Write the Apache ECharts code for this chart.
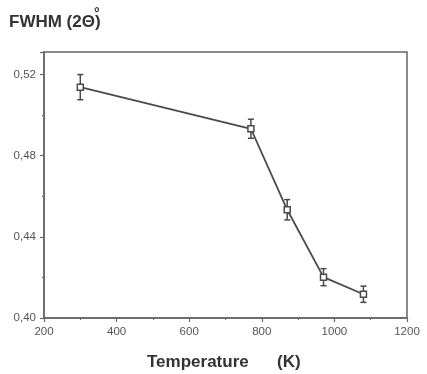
<!DOCTYPE html>
<html>
<head>
<meta charset="utf-8">
<script src="https://cdn.jsdelivr.net/npm/echarts@6/dist/echarts.min.js"></script>
<style>
  html, body { margin: 0; padding: 0; background: #fff; }
  #chart { width: 427px; height: 374px; }
</style>
</head>
<body>
<div id="chart"></div>
<script>
// values
const temps = [300, 770, 870, 970, 1080];
const fwhm = [0.5137, 0.4932, 0.4533, 0.4201, 0.4117];
const errs = [0.0062, 0.0047, 0.005, 0.0042, 0.004];

const lineColor = '#4a4a4a';
const axisColor = '#666';
const boldFont = 'bold 17px "Liberation Sans", Arial, sans-serif';

const chart = echarts.init(document.getElementById('chart'));

const points = temps.map((t, i) => [t, fwhm[i]]);
const bars = temps.map((t, i) => [t, fwhm[i] - errs[i], fwhm[i] + errs[i]]);

function renderErr(params, api) {
  const lo = api.coord([api.value(0), api.value(1)]);
  const hi = api.coord([api.value(0), api.value(2)]);
  const w = 3;
  const st = {stroke: lineColor, lineWidth: 1.5};
  return {
    type: 'group',
    children: [
      {type: 'line', shape: {x1: lo[0], y1: lo[1], x2: hi[0], y2: hi[1]}, style: st},
      {type: 'line', shape: {x1: lo[0] - w, y1: lo[1], x2: lo[0] + w, y2: lo[1]}, style: st},
      {type: 'line', shape: {x1: hi[0] - w, y1: hi[1], x2: hi[0] + w, y2: hi[1]}, style: st}
    ]
  };
}

const option = {
  backgroundColor: '#fff',
  animation: false,
  grid: {
    left: 44,
    right: 20,
    top: 52,
    bottom: 56,
    show: true,
    borderColor: axisColor,
    borderWidth: 1.5
  },
  graphic: [
    {
      type: 'text', left: 9, top: 14,
      style: {text: 'FWHM (2Θ)', font: boldFont, fill: '#333'}
    },
    {
      type: 'text', left: 94, top: 7,
      style: {text: '°', font: 'bold 14px "Liberation Sans", Arial, sans-serif', fill: '#333'}
    },
    {
      type: 'text', left: 147, top: 354,
      style: {text: 'Temperature', font: boldFont, fill: '#333'}
    },
    {
      type: 'text', left: 277, top: 354,
      style: {text: '(K)', font: boldFont, fill: '#333'}
    }
  ],
  xAxis: {
    type: 'value',
    min: 200,
    max: 1200,
    interval: 200,
    axisLine: {lineStyle: {color: axisColor, width: 1.5}},
    axisTick: {length: 4, lineStyle: {color: axisColor, width: 1.2}},
    minorTick: {show: true, splitNumber: 2, length: 2, lineStyle: {color: axisColor}},
    splitLine: {show: false},
    axisLabel: {
      color: '#555', fontSize: 11.5, fontFamily: '"Liberation Sans", Arial, sans-serif', margin: 8,
      formatter: v => String(v)
    }
  },
  yAxis: {
    type: 'value',
    min: 0.40,
    max: 0.531,
    interval: 0.04,
    axisLine: {show: true, lineStyle: {color: axisColor, width: 1.5}},
    axisTick: {show: true, length: 4, lineStyle: {color: axisColor, width: 1.2}},
    minorTick: {show: true, splitNumber: 2, length: 2, lineStyle: {color: axisColor}},
    splitLine: {show: false},
    axisLabel: {
      color: '#555', fontSize: 11.5, fontFamily: '"Liberation Sans", Arial, sans-serif', margin: 8,
      showMaxLabel: false,
      formatter: v => (Math.abs(v - 0.531) < 1e-6 ? '' : v.toFixed(2).replace('.', ','))
    }
  },
  series: [
    {
      type: 'line',
      data: points,
      symbol: 'rect',
      symbolSize: 6,
      z: 3,
      lineStyle: {color: lineColor, width: 1.8},
      itemStyle: {color: '#fff', borderColor: lineColor, borderWidth: 1.5}
    },
    {
      type: 'custom',
      data: bars,
      renderItem: renderErr,
      z: 2,
      encode: {x: 0, y: [1, 2]}
    }
  ]
};

chart.setOption(option);
</script>
</body>
</html>
